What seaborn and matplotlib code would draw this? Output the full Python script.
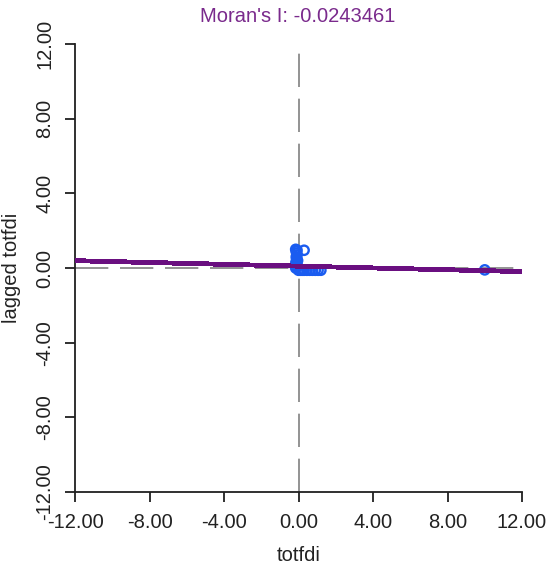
import numpy as np
import pandas as pd
import matplotlib
matplotlib.use("Agg")
import matplotlib.pyplot as plt
import seaborn as sns

# ---- data ----
totfdi = [-0.15, -0.12, -0.1, -0.08, -0.12, -0.1, -0.05, -0.14, -0.1, -0.06,
          -0.12, -0.08, -0.15, 0.3,
          0.0, 0.1, 0.2, 0.3, 0.45, 0.6, 0.75, 0.9, 1.05, 1.2,
          10.0]
lagged_totfdi = [1.0, 0.9, 0.8, 0.7, 0.6, 0.5, 0.4, 0.3, 0.2, 0.1,
                 0.05, 0.95, 0.0, 0.95,
                 -0.12, -0.12, -0.12, -0.12, -0.12, -0.12, -0.12, -0.12, -0.12, -0.12,
                 -0.1]
morans_i = -0.0243461
intercept = 0.1
axis_range = [-12, 12]
tick_values = [-12, -8, -4, 0, 4, 8, 12]
tick_labels = ["%.2f" % t for t in tick_values]

sns.set_theme(style="white")
plt.rcParams['font.family'] = ['Liberation Sans', 'DejaVu Sans']

fig = plt.figure(figsize=(5.48, 5.67), dpi=100)
ax = fig.add_axes([75/548, 1-492/567, (522-75)/548, (492-44)/567])

df = pd.DataFrame({"totfdi": totfdi, "lagged": lagged_totfdi})

# dashed reference lines
ax.axhline(0, color="#808080", lw=1.2, ls=(0, (20, 7)), zorder=1)
ax.axvline(0, color="#808080", lw=1.2, ls=(0, (20, 7)), zorder=1)

sns.scatterplot(data=df, x="totfdi", y="lagged", ax=ax, marker="o",
                facecolor="none", edgecolor="#1a5cf0", s=45, linewidth=1.7,
                zorder=2, legend=False)

xs = np.array(axis_range, dtype=float)
line_df = pd.DataFrame({"x": xs, "y": intercept + morans_i * xs})
sns.lineplot(data=line_df, x="x", y="y", ax=ax, color="#6a0f80", lw=2.8,
             zorder=3, antialiased=False)

ax.set_xlim(axis_range)
ax.set_ylim(axis_range)
ax.set_xticks(tick_values)
ax.set_xticklabels(tick_labels)
ax.set_yticks(tick_values)
ax.set_yticklabels(tick_labels, rotation=90, va="center")

for s in ["top", "right"]:
    ax.spines[s].set_visible(False)
for s in ["left", "bottom"]:
    ax.spines[s].set_color("#202020")
    ax.spines[s].set_linewidth(1.3)

ax.tick_params(axis="both", which="major", direction="out", length=7,
               width=1.3, color="#202020", labelsize=14.5, labelcolor="#222222",
               left=True, bottom=True)
ax.tick_params(axis="x", pad=8)
ax.tick_params(axis="y", pad=8)

ax.set_xlabel("totfdi", fontsize=14.5, color="#222222", labelpad=10)
ax.set_ylabel("lagged totfdi", fontsize=14.5, color="#222222", labelpad=10)

fig.text(298/548, 1-16/567, "Moran's I: %.7f" % morans_i, ha="center",
         va="center", fontsize=14.5, color="#7a2a8c")

fig.savefig("out.png", dpi=100)
